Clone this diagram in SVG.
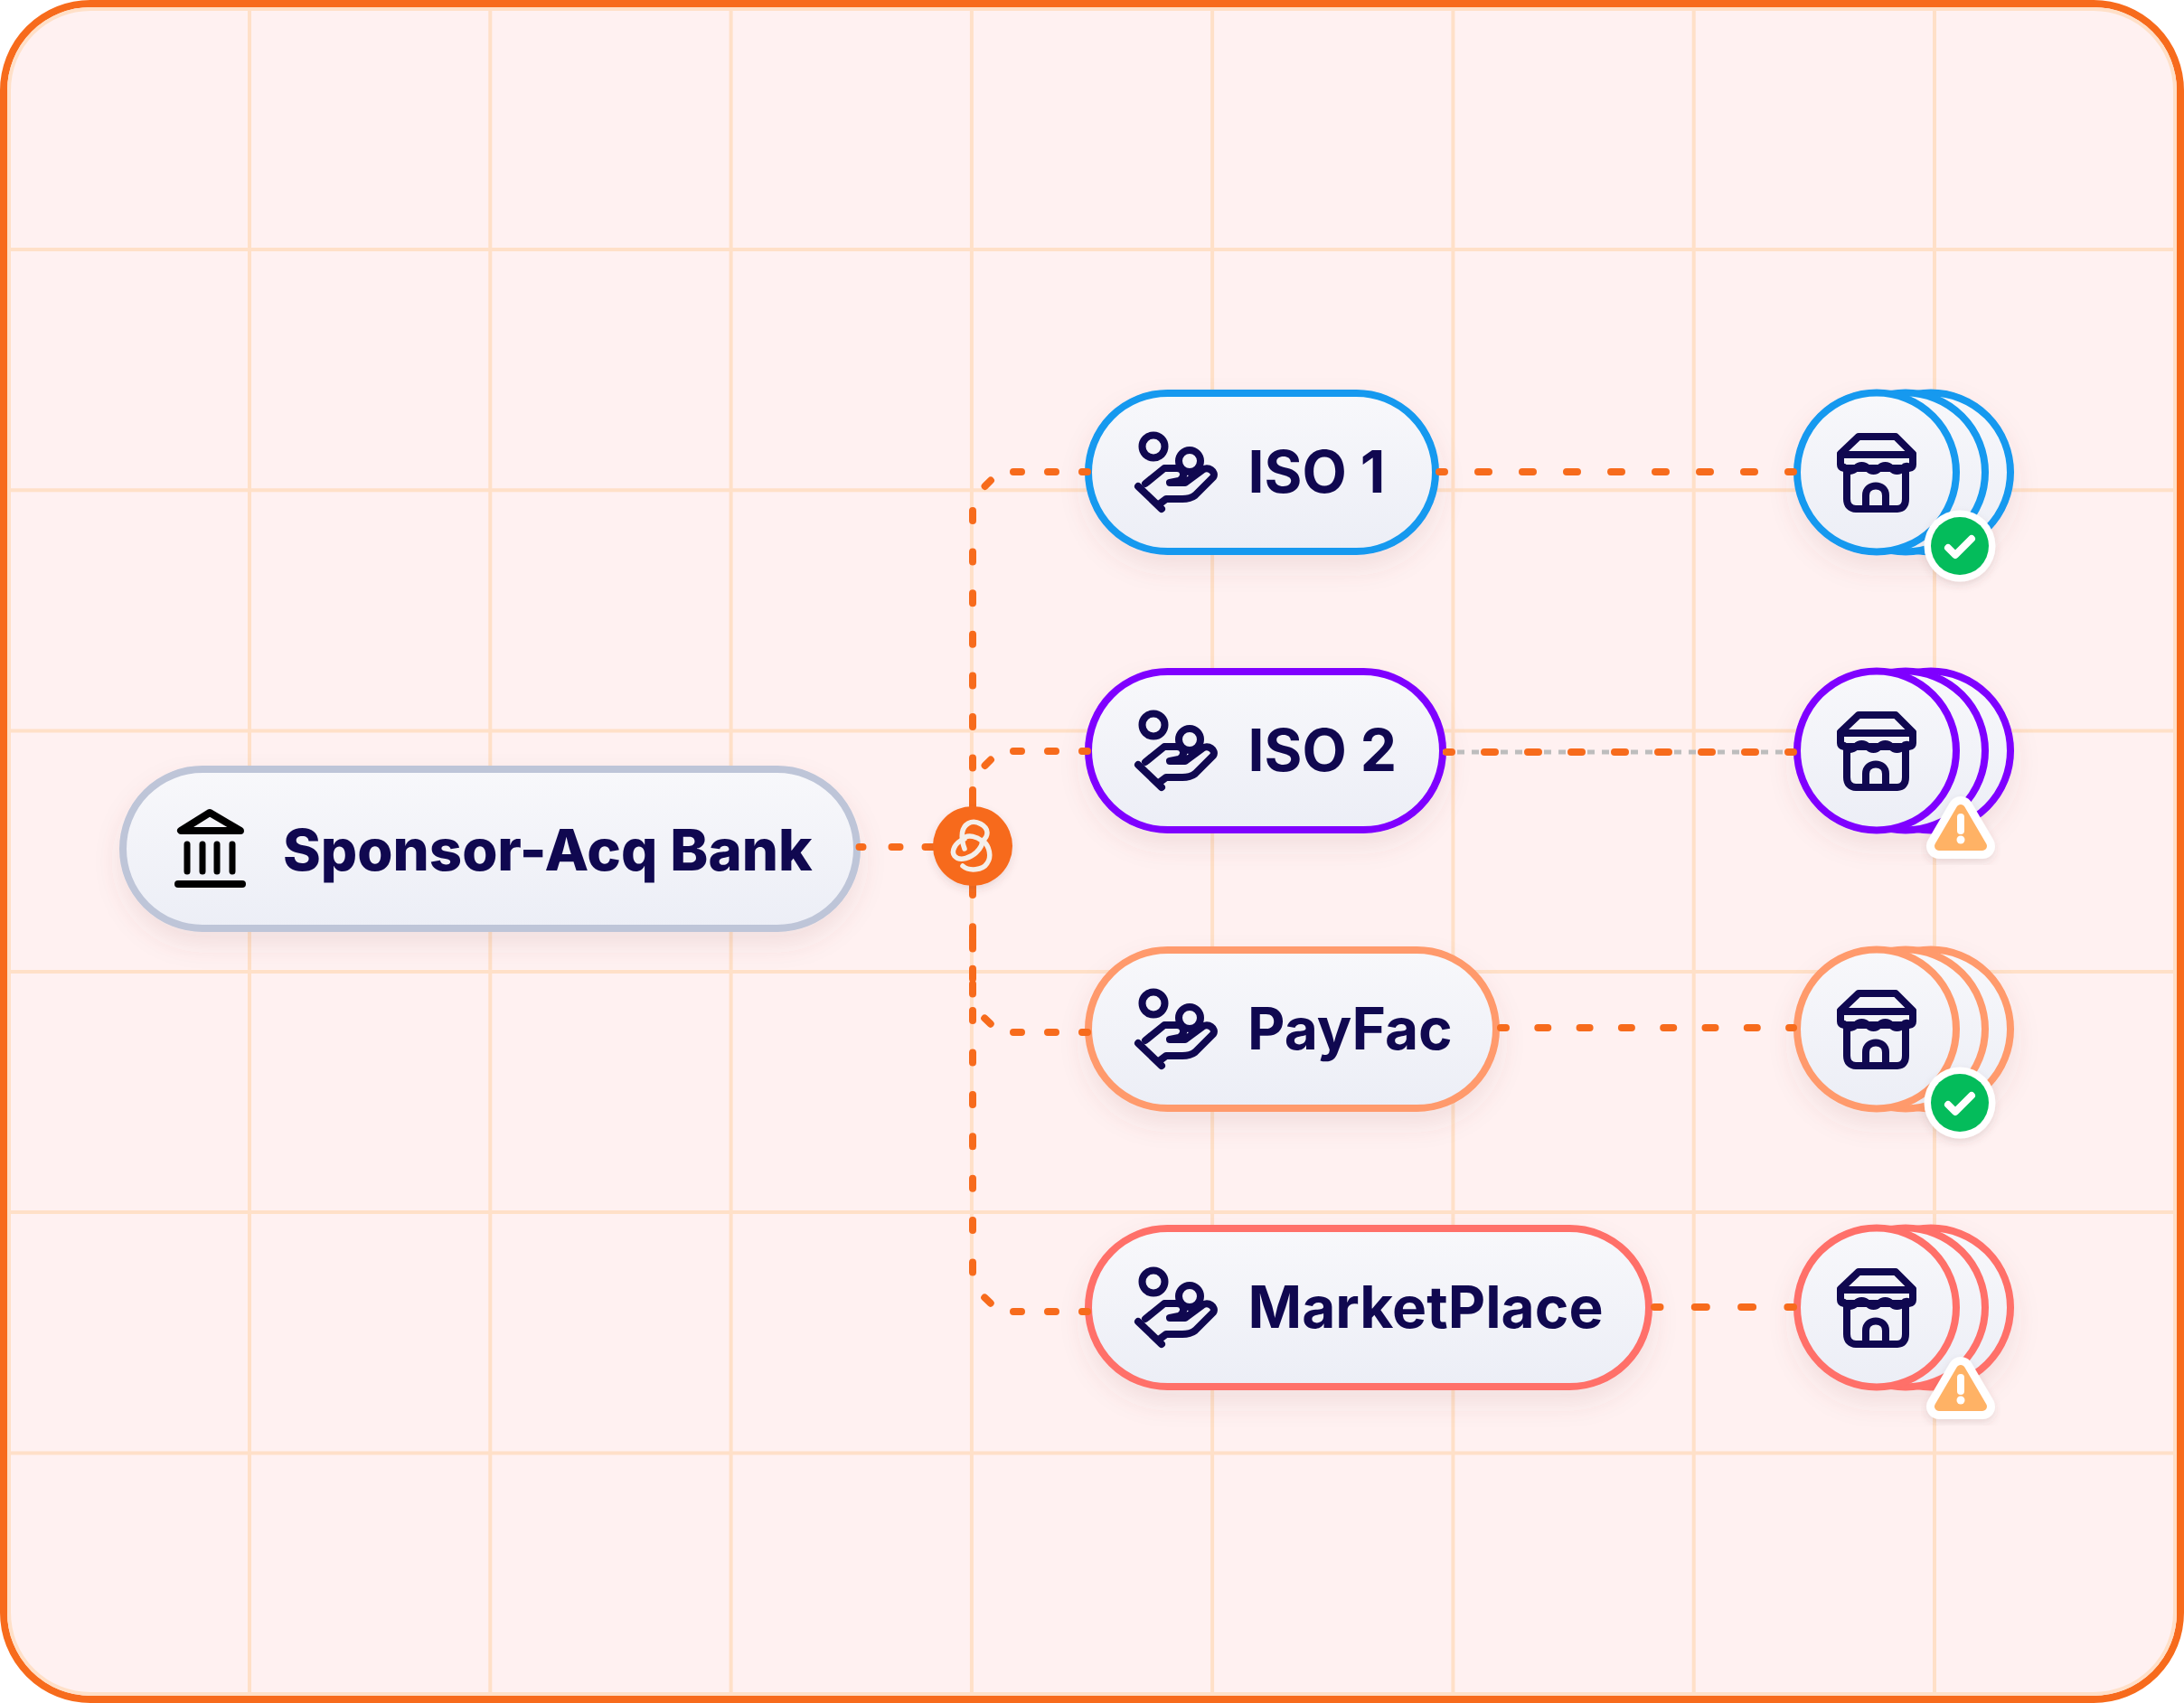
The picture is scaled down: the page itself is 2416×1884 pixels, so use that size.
<svg xmlns="http://www.w3.org/2000/svg" xmlns:xlink="http://www.w3.org/1999/xlink" width="2416" height="1884" viewBox="0 0 2416 1884">
<style>
.grid{stroke:#FFE0C8;stroke-width:4;fill:none}
.pill{fill:url(#nodeFill);stroke-width:8;filter:url(#soft)}
.label{font-family:"Inter","Liberation Sans",sans-serif;font-weight:700;font-size:64px;fill:#100850}
.ico{fill:none;stroke:#100850;stroke-width:8;stroke-linecap:round;stroke-linejoin:round}
.cn{fill:none;stroke:#F76B1C;stroke-width:8;stroke-linecap:round}
.disc{fill:url(#nodeFill);stroke-width:8}
</style>
<defs>
<linearGradient id="nodeFill" x1="0" y1="0" x2="0" y2="1"><stop offset="0" stop-color="#F8F8FB"/><stop offset="1" stop-color="#ECEEF6"/></linearGradient>
<filter id="soft" x="-30%" y="-30%" width="160%" height="170%"><feDropShadow dx="0" dy="14" stdDeviation="14" flood-color="#8A4A4A" flood-opacity="0.11"/></filter>
<filter id="badge" x="-40%" y="-40%" width="180%" height="190%"><feDropShadow dx="0" dy="4" stdDeviation="4" flood-color="#6A4A4A" flood-opacity="0.14"/></filter>
<g id="hand" class="ico">
<circle cx="1276" cy="494" r="12.5"/>
<circle cx="1316" cy="510" r="12"/>
<path d="M1259 538L1285 563"/>
<path d="M1267 535L1288 518H1302C1310 518 1312 528 1304 532L1294 534H1311L1330 520C1336 515 1346 522 1342 528L1322 548C1318 551 1314 552 1308 552H1290L1282 558"/>
</g>
<g id="store" class="ico">
<path d="M2036 502L2056 483H2097L2116 502V514C2116 516 2115 518 2112 518H2040C2037 518 2036 516 2036 514Z"/>
<path d="M2036 503H2116"/>
<path d="M2040 517c4 5 9 5 13 1c4-4 9-4 13 0c4 4 9 4 13 0c4-4 9-4 13 0c4 4 9 4 13 0c4-4 5-2 7-1"/>
<path d="M2043 520V552C2043 559 2047 563 2053 563H2099C2105 563 2108 559 2108 552V520"/>
<path d="M2064 561V548C2064 534 2086 534 2086 548V561"/>
</g>
<g id="ok">
<circle cx="2168" cy="604" r="39.5" fill="#fff" filter="url(#badge)"/>
<circle cx="2168" cy="604" r="32" fill="#04BC5B"/>
<path d="M2155 606L2163 614L2181 596" fill="none" stroke="#fff" stroke-width="8" stroke-linecap="round" stroke-linejoin="round"/>
</g>
<g id="warn">
<path d="M2169 895L2145 936H2193Z" fill="#fff" stroke="#fff" stroke-width="28" stroke-linejoin="round" filter="url(#badge)"/>
<path d="M2169 895L2145 936H2193Z" fill="#FFB265" stroke="#FFB265" stroke-width="10" stroke-linejoin="round"/>
<path d="M2169 904V919" stroke="#fff" stroke-width="8" stroke-linecap="round"/>
<circle cx="2169" cy="929" r="4.5" fill="#fff"/>
</g>
</defs>

<rect id="frame" x="4" y="4" width="2408" height="1876" rx="96" fill="#FFF1F1" stroke="#F76B1C" stroke-width="8"/>
<rect x="10" y="10" width="2396" height="1864" rx="90" class="grid"/>
<path id="grid" class="grid" d="M276 10V1874M542.3 10V1874M808.6 10V1874M1074.9 10V1874M1341.1 10V1874M1607.4 10V1874M1873.7 10V1874M2140 10V1874M10 276H2406M10 542.3H2406M10 808.6H2406M10 1074.9H2406M10 1341.1H2406M10 1607.4H2406"/>

<g id="node-bank">
<rect class="pill" x="136" y="851" width="812" height="176" rx="88" stroke="#BEC5D8"/>
<path d="M232 899L200 919H266Z" fill="none" stroke="#000" stroke-width="8" stroke-linejoin="round"/>
<path d="M207 934V964M224 934V964M240 934V964M257 934V964" stroke="#000" stroke-width="7" stroke-linecap="round"/>
<path d="M197 978H268" stroke="#000" stroke-width="8" stroke-linecap="round"/>
<text class="label" x="313" y="963" style="font-weight:800;font-size:63.4px">Sponsor-Acq Bank</text>
</g>

<g id="node-iso1">
<rect class="pill" x="1204" y="435" width="384" height="175" rx="87.5" stroke="#1399EF"/>
<use href="#hand"/>
<text class="label" x="1380.5" y="545">ISO 1</text>
</g>
<g id="node-iso2">
<rect class="pill" x="1204" y="743" width="392" height="175" rx="87.5" stroke="#7F00FF"/>
<use href="#hand" y="308"/>
<text class="label" x="1380.5" y="853">ISO 2</text>
</g>
<g id="node-payfac">
<rect class="pill" x="1204" y="1051" width="451" height="175" rx="87.5" stroke="#FF9A6C"/>
<use href="#hand" y="616"/>
<text class="label" x="1380" y="1161">PayFac</text>
</g>
<g id="node-marketplace">
<rect class="pill" x="1204" y="1359" width="620" height="175" rx="87.5" stroke="#FF6F69"/>
<use href="#hand" y="924"/>
<text class="label" x="1380.5" y="1469">MarketPlace</text>
</g>

<g id="merchants-1">
<g filter="url(#soft)"><circle class="disc" cx="2136" cy="522.5" r="88" stroke="#1399EF"/><circle class="disc" cx="2108" cy="522.5" r="88" stroke="#1399EF"/><circle class="disc" cx="2076" cy="522.5" r="88" stroke="#1399EF"/></g>
<use href="#store"/>
<use href="#ok"/>
</g>
<g id="merchants-2">
<g filter="url(#soft)"><circle class="disc" cx="2136" cy="830.5" r="88" stroke="#7F00FF"/><circle class="disc" cx="2108" cy="830.5" r="88" stroke="#7F00FF"/><circle class="disc" cx="2076" cy="830.5" r="88" stroke="#7F00FF"/></g>
<use href="#store" y="308"/>
<use href="#warn"/>
</g>
<g id="merchants-3">
<g filter="url(#soft)"><circle class="disc" cx="2136" cy="1138.5" r="88" stroke="#FF9A6C"/><circle class="disc" cx="2108" cy="1138.5" r="88" stroke="#FF9A6C"/><circle class="disc" cx="2076" cy="1138.5" r="88" stroke="#FF9A6C"/></g>
<use href="#store" y="616"/>
<use href="#ok" y="616"/>
</g>
<g id="merchants-4">
<g filter="url(#soft)"><circle class="disc" cx="2136" cy="1446.5" r="88" stroke="#FF6F69"/><circle class="disc" cx="2108" cy="1446.5" r="88" stroke="#FF6F69"/><circle class="disc" cx="2076" cy="1446.5" r="88" stroke="#FF6F69"/></g>
<use href="#store" y="924"/>
<use href="#warn" y="620"/>
</g>

<g id="connectors">
<path d="M1596 832H1972" fill="none" stroke="#BDBDBD" stroke-width="5" stroke-dasharray="8 8"/>
<path class="cn" d="M950.5 937H1033" stroke-dasharray="4 32 9 28 9 100"/>
<path class="cn" d="M1203 522H1105.5L1084 543.5" stroke-dasharray="9 29" stroke-dashoffset="3"/>
<path class="cn" d="M1076 565V895" stroke-dasharray="11 34.6"/>
<path class="cn" d="M1203 831H1105.5L1084 852.5" stroke-dasharray="9 29" stroke-dashoffset="3"/>
<path class="cn" d="M1076 874V886"/>
<path class="cn" d="M1203 1142H1105.5L1084 1121.5" stroke-dasharray="9 29" stroke-dashoffset="3"/>
<path class="cn" d="M1076 1099.5V1038" stroke-dasharray="11 39"/>
<path class="cn" d="M1203 1451H1105.5L1084 1430.5" stroke-dasharray="9 29" stroke-dashoffset="3"/>
<path class="cn" d="M1076 1407.5V976" stroke-dasharray="11 35.4"/>
<path class="cn" d="M1592 522H1984" stroke-dasharray="12 37" stroke-dashoffset="6"/>
<path class="cn" d="M1600 832H1984" stroke-dasharray="12 36" stroke-dashoffset="6"/>
<path class="cn" d="M1660 1137H1984" stroke-dasharray="11 35.3" stroke-dashoffset="5"/>
<path class="cn" d="M1830 1446H1984" stroke-dasharray="13 38.3" stroke-dashoffset="6.5"/>
</g>

<g id="node-hub">
<circle cx="1076" cy="936" r="44" fill="#F76B1C" filter="url(#badge)"/>
<g fill="none" stroke="#F4EFEA" stroke-width="5.5" stroke-linecap="round">
<path d="M1067 939C1062 925 1064 915 1071 911C1080 906 1092 914 1092 921C1092 926 1090 928 1087 930C1095 936 1097 948 1092 955C1087 963 1072 964 1065 958"/>
<path d="M1067 928C1056 932 1052 942 1056 947C1062 954 1075 948 1080 943C1085 938 1087 933 1086 930C1080 925 1072 924 1068 926"/>
</g>
</g>
</svg>
